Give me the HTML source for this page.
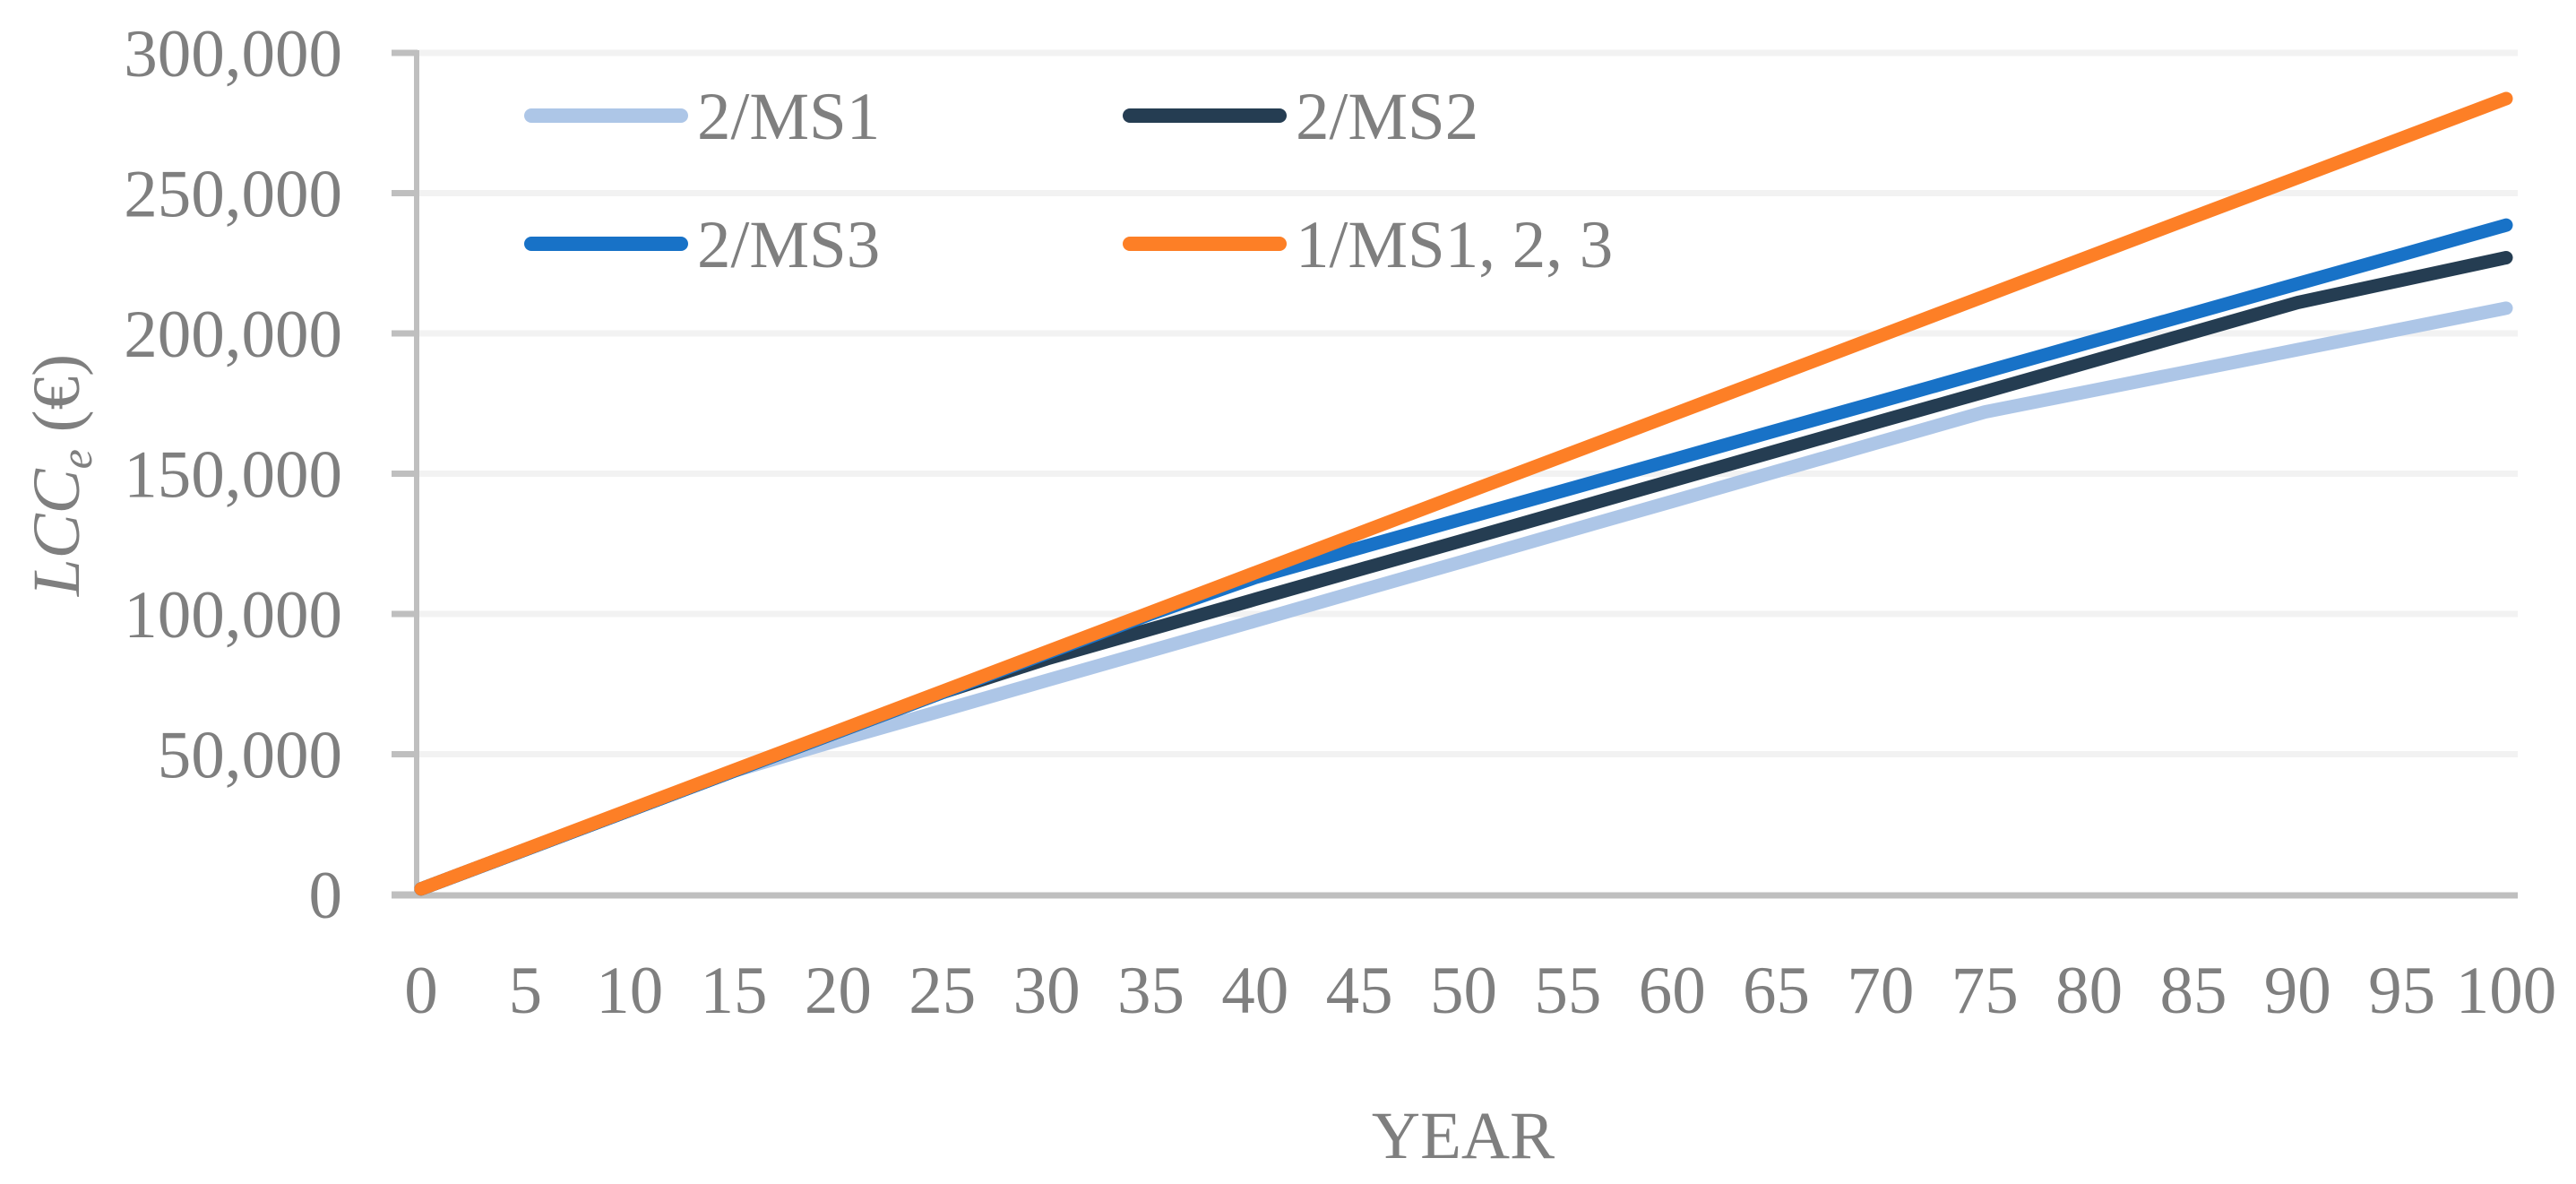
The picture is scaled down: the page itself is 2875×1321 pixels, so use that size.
<!DOCTYPE html>
<html><head><meta charset="utf-8"><style>
html,body{margin:0;padding:0;background:#fff;}
svg{display:block;font-family:"Liberation Serif",serif;}
</style></head><body>
<svg id="chart" width="2875" height="1321" viewBox="0 0 2875 1321" xmlns="http://www.w3.org/2000/svg">
<g id="grid"></g>
<g id="axes"></g>
<g id="series"></g>
<g id="legend"></g>
<text x="1633" y="1292" font-size="75" fill="#7f7f7f" text-anchor="middle">YEAR</text>
<text transform="translate(88,530) rotate(-90)" font-size="75" fill="#7f7f7f" text-anchor="middle"><tspan font-style="italic">LCC</tspan><tspan font-style="italic" font-size="50" dy="14">e</tspan><tspan dy="-14"> (€)</tspan></text>
</svg>
<script>
const years = [0,5,10,15,20,25,30,35,40,45,50,55,60,65,70,75,80,85,90,95,100];
const ms1 = [2000,16000,30000,44000,55000,65600,76300,86900,97500,108200,118800,129500,140100,150800,161400,172000,179400,186800,194200,201600,209000];
const ms2 = [2000,16000,30000,44000,58000,72000,84000,94600,105200,115800,126300,136900,147500,158100,168700,179200,189800,200400,211000,219000,227000];
const ms3 = [2000,16000,30000,44000,58000,72000,86000,100000,113000,123500,134000,144400,154900,165400,175800,186300,196800,207200,217700,228100,238600];
const ms123 = [2000,16100,30200,44300,58300,72400,86500,100600,114700,128800,142900,156900,171000,185100,199200,213300,227400,241500,255500,269600,283700];
const yTicks = [0,50000,100000,150000,200000,250000,300000];
const xTicks = [0,5,10,15,20,25,30,35,40,45,50,55,60,65,70,75,80,85,90,95,100];
const seriesNames = ["2/MS1","2/MS2","2/MS3","1/MS1, 2, 3"];

const NS="http://www.w3.org/2000/svg";
const X0=470,X1=2797,Y0=998,Y1=59;
const xs=v=>X0+(v-0)/100*(X1-X0);
const ys=v=>Y0-(v/300000)*(Y0-Y1);
function mk(tag,attrs,parent){const e=document.createElementNS(NS,tag);for(const k in attrs)e.setAttribute(k,attrs[k]);parent.appendChild(e);return e;}
const grid=document.getElementById('grid'),axes=document.getElementById('axes'),ser=document.getElementById('series'),leg=document.getElementById('legend');
yTicks.forEach((t,i)=>{
  const y=ys(t);
  if(t>0){const g=mk('line',{x1:466,x2:2810,y1:y,y2:y,stroke:'#f2f2f2','stroke-width':7},grid);
  
  }
  const tk=mk('line',{x1:437,x2:466,y1:y,y2:y,stroke:'#bfbfbf','stroke-width':7},axes);
  
  
  const lb=mk('text',{x:382,y:y+26,'font-size':75,fill:'#7f7f7f','text-anchor':'end'},axes);
  lb.textContent=t.toLocaleString('en-US');
  
  
});
const ya=mk('line',{x1:465,x2:465,y1:Y1-3,y2:Y0+4,stroke:'#bfbfbf','stroke-width':6},axes);


const xa=mk('line',{x1:437,x2:2810,y1:Y0+1,y2:Y0+1,stroke:'#bfbfbf','stroke-width':7},axes);


xTicks.forEach(t=>{
  const lb=mk('text',{x:xs(t),y:1130,'font-size':75,fill:'#7f7f7f','text-anchor':'middle'},axes);
  lb.textContent=t;
  
  
});
const colors=['#adc6e7','#253d52','#1872c7','#fd7f26'];
const data=[ms1,ms2,ms3,ms123];
data.forEach((d,i)=>{
  const pts=d.map((v,j)=>xs(years[j])+','+ys(v)).join(' ');
  const p=mk('polyline',{points:pts,fill:'none',stroke:colors[i],'stroke-width':15,'stroke-linejoin':'round','stroke-linecap':'round'},ser);
  
  
});
const legPos=[[593,129],[1261,129],[593,272],[1261,272]];
seriesNames.forEach((n,i)=>{
  const [lx,ly]=legPos[i];
  const g=mk('g',{},leg);
  
  
  mk('line',{x1:lx,x2:lx+167,y1:ly,y2:ly,stroke:colors[i],'stroke-width':16,'stroke-linecap':'round'},g);
  const t=mk('text',{x:lx+185,y:ly+26,'font-size':75,fill:'#7f7f7f'},g);
  t.textContent=n;
});
</script>
</body></html>
